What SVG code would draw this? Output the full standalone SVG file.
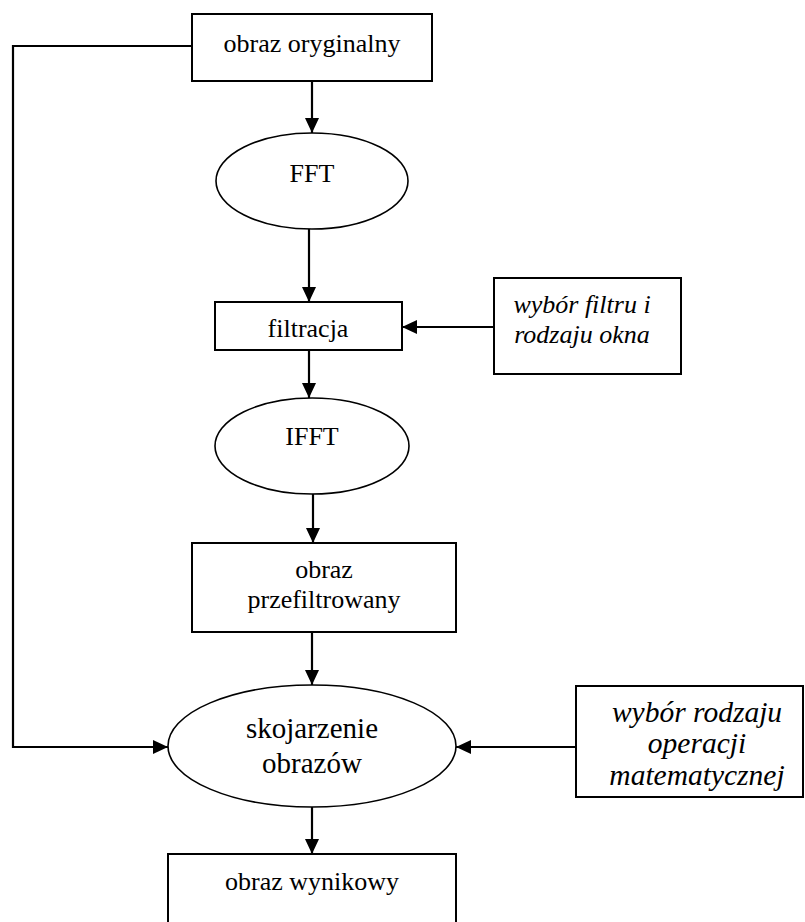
<svg xmlns="http://www.w3.org/2000/svg" width="805" height="922" viewBox="0 0 805 922">
<style>
.box{fill:#fff;stroke:#000;stroke-width:2}
.ell{fill:#fff;stroke:#000;stroke-width:1.6}
.t{font-family:"Liberation Serif","Times New Roman",serif;font-size:26px;text-anchor:middle;fill:#000}
.it{font-style:italic}
.c{fill:none;stroke:#000;stroke-width:2.2}
</style>
<defs>
<marker id="ah" markerUnits="userSpaceOnUse" markerWidth="15" markerHeight="14" refX="15" refY="7" orient="auto">
<path d="M0,0 L15,7 L0,14 z" fill="#000"/>
</marker>
</defs>
<rect width="805" height="922" fill="#fff"/>
<g id="connectors">
<path class="c" d="M312,81 L312,133" marker-end="url(#ah)"/>
<path class="c" d="M309,229 L309,302" marker-end="url(#ah)"/>
<path class="c" d="M494,327 L402,327" marker-end="url(#ah)"/>
<path class="c" d="M309,350 L309,398" marker-end="url(#ah)"/>
<path class="c" d="M313,494 L313,543" marker-end="url(#ah)"/>
<path class="c" d="M312,632 L312,685" marker-end="url(#ah)"/>
<path class="c" d="M192,46 L13,46 L13,747 L168,747" marker-end="url(#ah)"/>
<path class="c" d="M576,747 L456,747" marker-end="url(#ah)"/>
<path class="c" d="M312,807 L312,854" marker-end="url(#ah)"/>
</g>
<g id="obraz-oryginalny">
<rect class="box" x="192" y="14" width="240" height="67"/>
<text class="t" x="312" y="52">obraz oryginalny</text>
</g>
<g id="fft">
<ellipse class="ell" cx="312" cy="181" rx="96" ry="48"/>
<text class="t" x="312" y="182">FFT</text>
</g>
<g id="filtracja">
<rect class="box" x="215" y="302" width="187" height="48"/>
<text class="t" x="308" y="337">filtracja</text>
</g>
<g id="wybor-filtru">
<rect class="box" x="494" y="278" width="187" height="96"/>
<text class="t it" x="582" y="313">wybór filtru i</text>
<text class="t it" x="582" y="343">rodzaju okna</text>
</g>
<g id="ifft">
<ellipse class="ell" cx="312" cy="446" rx="97" ry="48"/>
<text class="t" x="312" y="445">IFFT</text>
</g>
<g id="obraz-przefiltrowany">
<rect class="box" x="192" y="543" width="264" height="89"/>
<text class="t" x="324" y="578">obraz</text>
<text class="t" x="324" y="608">przefiltrowany</text>
</g>
<g id="skojarzenie">
<ellipse class="ell" cx="312" cy="746" rx="144" ry="61"/>
<text class="t" x="312" y="738" style="font-size:29px">skojarzenie</text>
<text class="t" x="312" y="773" style="font-size:29px">obrazów</text>
</g>
<g id="wybor-operacji">
<rect class="box" x="576" y="686" width="227" height="111"/>
<text class="t it" x="697" y="722" style="font-size:29.5px">wybór rodzaju</text>
<text class="t it" x="697" y="753" style="font-size:29.5px">operacji</text>
<text class="t it" x="697" y="785" style="font-size:29.5px">matematycznej</text>
</g>
<g id="obraz-wynikowy">
<rect class="box" x="168" y="854" width="288" height="80"/>
<text class="t" x="312" y="890">obraz wynikowy</text>
</g>
</svg>
